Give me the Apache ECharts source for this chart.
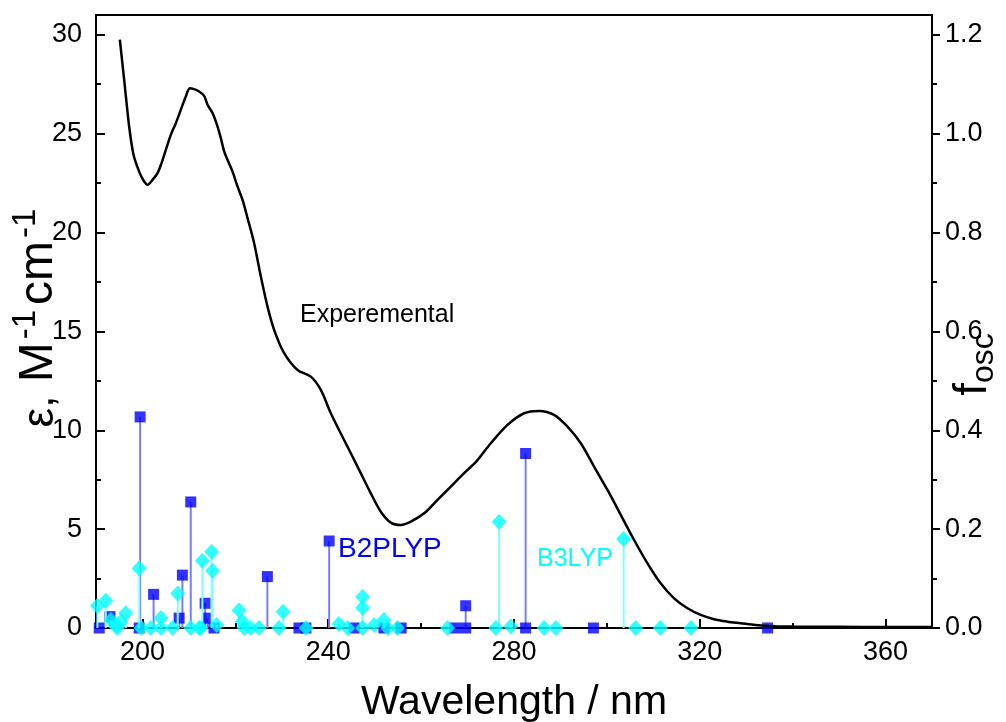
<!DOCTYPE html>
<html>
<head>
<meta charset="utf-8">
<script src="https://cdn.jsdelivr.net/npm/echarts@6/dist/echarts.min.js"></script>
<style>
html,body{margin:0;padding:0;background:#fff;}
#chart{width:1006px;height:722px;}
</style>
</head>
<body>
<div id="chart"></div>
<script>
// Experimental spectrum (wavelength nm, epsilon)
const expWl  = [195.13,196.06,197.14,198.08,199.29,200.24,201.10,202.17,203.25,204.11,205.04,206.11,207.19,208.27,209.34,210.20,211.13,212.21,213.28,214.02,215.09,216.17,216.88,217.59,218.32,219.40,220.47,221.55,222.63,224.05,225.49,226.93,228.35,230.51,233.39,236.26,238.41,240.56,243.42,246.31,249.17,251.32,253.48,255.63,257.78,260.65,263.53,266.39,269.26,272.0,275.0,278.6,282.17,285.4,288.63,291.52,294.38,297.24,300.13,302.99,305.86,308.74,311.58,314.47,317.35,320.22,323.08,325.96,328.83,332,336,340,350,360,370];
const expEps = [29.75,27.73,25.36,23.93,23.08,22.63,22.41,22.66,23.00,23.51,24.18,24.94,25.53,26.21,26.88,27.30,27.25,27.13,26.91,26.46,26.04,25.36,24.77,24.10,23.68,23.08,22.33,21.65,20.73,19.46,17.77,16.25,15.08,13.90,13.05,12.71,12.04,10.86,9.51,8.16,6.81,5.88,5.33,5.21,5.38,5.80,6.48,7.15,7.83,8.45,9.34,10.27,10.86,10.98,10.78,10.18,9.34,8.16,6.98,5.72,4.45,3.27,2.26,1.50,1.00,0.66,0.44,0.32,0.24,0.15,0.09,0.07,0.06,0.05,0.05];

// B2PLYP transitions (wavelength nm, oscillator strength)
const b2plypWl = [190.7,193.0,199.3,199.5,202.4,207.9,208.6,210.4,213.5,214.0,215.4,226.9,233.7,235.2,240.2,245.6,252.0,255.7,267.3,269.6,269.6,282.5,282.5,297.1,334.6];
const b2plypF  = [0,0.023,0,0.427,0.068,0.02,0.107,0.255,0.05,0.02,0,0.104,0,0,0.176,0,0,0,0,0,0.045,0,0.353,0,0];

// B3LYP transitions (wavelength nm, oscillator strength)
const b3lypWl = [190.3,192.1,193.2,194.3,194.6,195.4,196.4,199.3,199.7,201.8,204.0,204.0,206.5,207.6,210.4,212.2,212.6,212.9,214.9,215.1,216.0,220.8,221.5,221.9,223.3,225.1,229.4,230.3,235.2,242.3,244.2,247.4,247.4,247.4,249.9,252.0,252.8,254.9,265.7,276.1,276.8,279.3,286.5,289.0,303.6,306.2,311.5,318.1];
const b3lypF  = [0.045,0.055,0.016,0.006,0,0.013,0.03,0.121,0,0,0.02,0,0,0.07,0,0,0,0.136,0.154,0.116,0.006,0.036,0.013,0,0,0,0,0.033,0,0.008,0,0.063,0.041,0,0.006,0.016,0,0,0,0,0.215,0.003,0,0,0.18,0,0,0];

// Tick labels
const xMajor = [200,240,280,320,360];
const xMinor = [220,260,300,340];
const epsMajor = [0,5,10,15,20,25,30];
const epsMinor = [2.5,7.5,12.5,17.5,22.5,27.5];
const fMajor = [0,0.2,0.4,0.6,0.8,1.0,1.2];
const fMinor = [0.1,0.3,0.5,0.7,0.9,1.1];

const FONT = 'Liberation Sans, Arial, sans-serif';
const zip = (a,b) => a.map((v,i)=>[v,b[i]]);

function stick(color){
  return function(params, api){
    const x = api.value(0), f = api.value(1);
    const p0 = api.coord([x,0]);
    const p1 = api.coord([x,f]);
    return {type:'line', shape:{x1:p0[0],y1:p0[1],x2:p1[0],y2:p1[1]},
            style:{stroke:color, lineWidth:2}};
  };
}

const chart = echarts.init(document.getElementById('chart'), null, {renderer:'canvas'});
const baseX = {type:'value', min:190, max:370, splitLine:{show:false}, gridIndex:0};
const baseY = {type:'value', splitLine:{show:false}};
const TICKFS = 27;

chart.setOption({
  animation:false,
  backgroundColor:'#fff',
  textStyle:{fontFamily:FONT},
  grid:{left:96,right:74,top:15,bottom:94,containLabel:false,outerBoundsMode:'none',
        show:true,borderColor:'#000',borderWidth:2,backgroundColor:'transparent'},
  xAxis:[
    Object.assign({}, baseX, {
      position:'bottom',
      axisLine:{lineStyle:{color:'#000',width:2}},
      axisTick:{inside:true,length:9,lineStyle:{color:'#000',width:2},customValues:xMajor},
      axisLabel:{customValues:xMajor,color:'#000',fontSize:TICKFS,fontFamily:FONT,margin:11},
      name:'Wavelength / nm', nameLocation:'middle', nameGap:54, nameMoveOverlap:false,
      nameTextStyle:{fontSize:41,color:'#000',fontFamily:FONT}
    }),
    Object.assign({}, baseX, {
      position:'bottom',
      axisLine:{show:false},
      axisTick:{inside:true,length:5,lineStyle:{color:'#000',width:2},customValues:xMinor},
      axisLabel:{show:false}
    })
  ],
  yAxis:[
    Object.assign({}, baseY, {
      min:0,max:31,position:'left',
      axisLine:{show:true,lineStyle:{color:'#000',width:2}},
      axisTick:{show:true,inside:true,length:9,lineStyle:{color:'#000',width:2},customValues:epsMajor},
      axisLabel:{customValues:epsMajor,color:'#000',fontSize:TICKFS,fontFamily:FONT,margin:14},
      name:'{e|ε,} {a|M}{s|-1}{a|cm}{s|-1}', nameLocation:'middle', nameGap:33, nameRotate:90,
      nameMoveOverlap:false,
      nameTextStyle:{color:'#000',fontFamily:FONT,fontSize:48,padding:[0,0,0,12],
        rich:{e:{fontSize:44,fontFamily:FONT,color:'#000',lineHeight:54,verticalAlign:'bottom'},
              a:{fontSize:48,fontFamily:FONT,color:'#000',lineHeight:54,verticalAlign:'bottom'},
              s:{fontSize:33,fontFamily:FONT,color:'#000',lineHeight:33,verticalAlign:'top',padding:[0,5,0,3]}}}
    }),
    Object.assign({}, baseY, {
      min:0,max:1.24,position:'right',
      axisLine:{show:true,lineStyle:{color:'#000',width:2}},
      axisTick:{show:true,inside:false,length:8,lineStyle:{color:'#000',width:2},customValues:fMajor},
      axisLabel:{customValues:fMajor,color:'#000',fontSize:TICKFS,fontFamily:FONT,margin:13,
                 formatter:v=>v.toFixed(1)},
      name:'{f|f}{o|osc}', nameLocation:'middle', nameGap:18, nameRotate:90,
      nameMoveOverlap:false,
      nameTextStyle:{color:'#000',fontFamily:FONT,padding:[0,86,0,0],
        rich:{f:{fontSize:46,fontFamily:FONT,color:'#000',lineHeight:50,verticalAlign:'top'},
              o:{fontSize:32,fontFamily:FONT,color:'#000',lineHeight:32,verticalAlign:'bottom'}}}
    }),
    Object.assign({}, baseY, {
      min:0,max:31,position:'left',
      axisLine:{show:false},
      axisTick:{show:true,inside:true,length:5,lineStyle:{color:'#000',width:2},customValues:epsMinor},
      axisLabel:{show:false}
    }),
    Object.assign({}, baseY, {
      min:0,max:1.24,position:'right',
      axisLine:{show:false},
      axisTick:{show:true,inside:false,length:5,lineStyle:{color:'#000',width:2},customValues:fMinor},
      axisLabel:{show:false}
    })
  ],
  series:[
    {type:'custom', name:'B2PLYP sticks', xAxisIndex:0, yAxisIndex:1, renderItem:stick('#7b7bff'),
     data:zip(b2plypWl,b2plypF), encode:{x:0,y:1}, z:2},
    {type:'scatter', name:'B2PLYP', xAxisIndex:0, yAxisIndex:1, symbol:'rect', symbolSize:11,
     itemStyle:{color:'#0000ff'}, data:zip(b2plypWl,b2plypF), z:3},
    {type:'custom', name:'B3LYP sticks', xAxisIndex:0, yAxisIndex:1, renderItem:stick('#80ffff'),
     data:zip(b3lypWl,b3lypF), encode:{x:0,y:1}, z:4},
    {type:'scatter', name:'B3LYP', xAxisIndex:0, yAxisIndex:1, symbol:'diamond', symbolSize:[15,16],
     itemStyle:{color:'#00ffff'}, data:zip(b3lypWl,b3lypF), z:5},
    {type:'line', name:'Experemental', xAxisIndex:0, yAxisIndex:0, data:zip(expWl,expEps),
     showSymbol:false, smooth:0.3, lineStyle:{color:'#000',width:2.5}, z:6}
  ],
  graphic:[
    {type:'text', left:300, top:303, style:{text:'Experemental', fontSize:25, fontFamily:FONT, fill:'#000'}},
    {type:'text', left:338, top:535, style:{text:'B2PLYP', fontSize:28, fontFamily:FONT, fill:'#0000ff'}},
    {type:'text', left:537, top:547, style:{text:'B3LYP', fontSize:25, fontFamily:FONT, fill:'#00ffff'}}
  ]
});
</script>
</body>
</html>
